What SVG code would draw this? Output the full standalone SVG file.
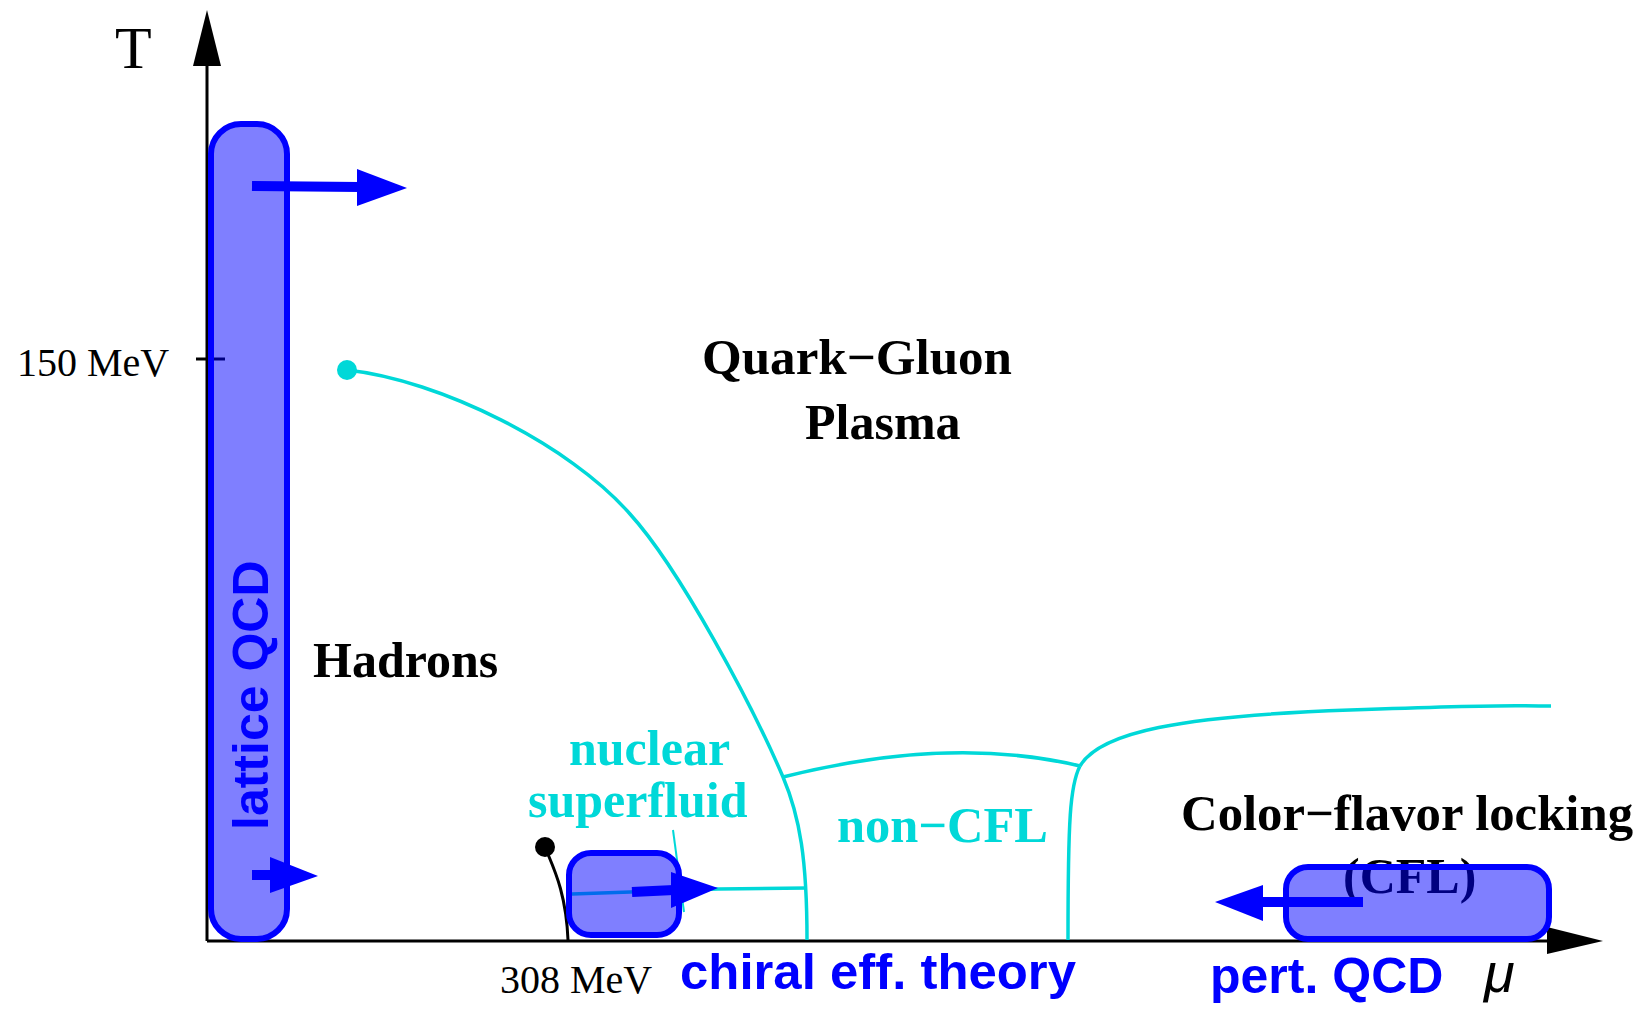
<svg xmlns="http://www.w3.org/2000/svg" width="1646" height="1010" viewBox="0 0 1646 1010">
<style>
.ax{stroke:#000;stroke-width:3;fill:none}
.axh{fill:#000}
.cy{stroke:#00d8d8;stroke-width:3.5;fill:none}
.box{fill:#0000ff;fill-opacity:0.5;stroke:#0000ff;stroke-width:6}
.sh{stroke:#0000ff;stroke-width:10;fill:none}
.hd{fill:#0000ff}
.serif{font-family:"Liberation Serif","Times New Roman",serif}
.sb{font-family:"Liberation Serif","Times New Roman",serif;font-weight:bold}
.sans{font-family:"Liberation Sans",Arial,sans-serif;font-weight:bold;fill:#0000ff}
</style>
<rect width="1646" height="1010" fill="#fff"/>
<g id="axes">
<line class="ax" x1="207" y1="941" x2="1552" y2="941"/>
<polygon class="axh" points="1547,927 1603,941 1547,954"/>
<line class="ax" x1="207" y1="941" x2="207" y2="60"/>
<polygon class="axh" points="193,66 207,10 221,66"/>
<line class="ax" x1="196" y1="359" x2="225" y2="359"/>
<text class="serif" x="115" y="68" font-size="60">T</text>
<text class="serif" x="17" y="376" font-size="40">150 MeV</text>
<text class="serif" x="500" y="993" font-size="40">308 MeV</text>
<text x="1484" y="992" font-size="56" font-style="italic" font-family="Liberation Sans, Arial, sans-serif">μ</text>
</g>
<g id="connectors">
<path class="cy" d="M347,370 C440,380 570,445 630,514 C680,569 753,707 783,777 C800,817 807,860 807,940"/>
<path class="cy" d="M783,777 Q950,735 1080,766"/>
<path class="cy" d="M1080,766 C1070,785 1068,820 1068,940"/>
<path class="cy" d="M1080,766 C1100,732 1180,716 1350,710 S1500,706 1551,706"/>
<path class="cy" d="M572,894 L718,889 L807,888"/>
<line x1="673" y1="830" x2="684" y2="912" stroke="#00d8d8" stroke-width="2"/>
<circle cx="347" cy="370" r="10" fill="#00d8d8"/>
<path d="M545,847 C552,865 566,890 568,940" stroke="#000" stroke-width="3" fill="none"/>
<circle cx="545" cy="847" r="10" fill="#000"/>
</g>
<g id="labels">
<text class="sb" x="702" y="374" font-size="50" textLength="310" lengthAdjust="spacingAndGlyphs">Quark−Gluon</text>
<text class="sb" x="805" y="439" font-size="50">Plasma</text>
<text class="sb" x="313" y="677" font-size="50">Hadrons</text>
<text class="sb" x="569" y="765" font-size="50" fill="#00d8d8">nuclear</text>
<text class="sb" x="528" y="817" font-size="50" fill="#00d8d8">superfluid</text>
<text class="sb" x="837" y="842" font-size="50" fill="#00d8d8" textLength="211" lengthAdjust="spacingAndGlyphs">non−CFL</text>
<text class="sb" x="1181" y="830" font-size="50" textLength="452" lengthAdjust="spacingAndGlyphs">Color−flavor locking</text>
<text class="sb" x="1343" y="893" font-size="50">(CFL)</text>
<text class="sans" x="680" y="989" font-size="50" textLength="396" lengthAdjust="spacingAndGlyphs">chiral eff. theory</text>
<text class="sans" x="1210" y="993" font-size="50">pert. QCD</text>
</g>
<g id="lattice">
<rect class="box" x="211" y="124" width="76" height="815" rx="30"/>
<text class="sans" font-size="50" transform="translate(268,830) rotate(-90)">lattice QCD</text>
<line class="sh" x1="252" y1="186" x2="360" y2="187"/>
<polygon class="hd" points="357,169 407,188 357,206"/>
<line class="sh" x1="252" y1="875" x2="273" y2="875"/>
<polygon class="hd" points="270,857 318,876 270,893"/>
</g>
<g id="chiral">
<rect class="box" x="569" y="853" width="110" height="82" rx="22"/>
<line class="sh" x1="632" y1="892" x2="674" y2="890"/>
<polygon class="hd" points="671,872 718,888 671,908"/>
</g>
<g id="pertqcd">
<rect class="box" x="1286" y="867" width="263" height="72" rx="22"/>
<line class="sh" x1="1363" y1="902" x2="1260" y2="902"/>
<polygon class="hd" points="1263,885 1215,902 1263,921"/>
</g>
</svg>
